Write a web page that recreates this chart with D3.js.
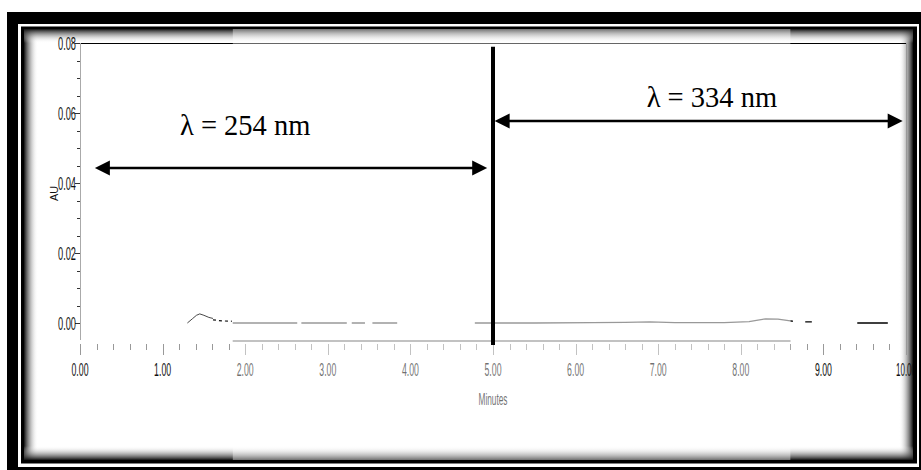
<!DOCTYPE html>
<html><head><meta charset="utf-8">
<script src="https://cdn.jsdelivr.net/npm/d3@7"></script>
<style>body{margin:0;background:#fff}svg{display:block}</style>
</head><body>
<svg id="c" width="921" height="470"></svg>
<script>
// ---- data ----
const xMajorTicks = [0,1,2,3,4,5,6,7,8,9,10];
const xTickLabels = ["0.00","1.00","2.00","3.00","4.00","5.00","6.00","7.00","8.00","9.00","10.00"];
const yMajorTicks = [0,0.02,0.04,0.06,0.08];
const yTickLabels = ["0.00","0.02","0.04","0.06","0.08"];
const xTitle = "Minutes";
const yTitle = "AU";
// chromatogram trace pieces (time in minutes, absorbance in AU); null = gap
const peakTime = [1.30,1.36,1.41,1.45,1.50,1.56,1.61];
const peakAU   = [0.0000,0.0012,0.0022,0.0026,0.0022,0.0016,0.0013];
const tailTime = [1.61,1.72,1.84];
const tailAU   = [0.0009,0.0006,0.0005];
const baseTime = [1.85,2.63,2.655,2.68,3.23,3.26,3.29,3.45,3.50,3.54,3.84,4.30,4.78,5.50,6.20,6.60,6.90,7.20,7.80,8.10,8.30,8.45,8.60];
const baseAU   = [0.0000,0.0000,null,0.0000,0.0000,null,0.0000,0.0000,null,0.0000,0.0000,null,0.0000,0.0000,0.0001,0.0002,0.0003,0.0001,0.0001,0.0004,0.0012,0.0011,0.0006];
const endTime  = [8.60,8.63,8.70,8.78,8.86,9.10,9.41,9.78];
const endAU    = [0.0006,0.0005,null,0.0003,0.0003,null,0.0000,0.0000];
// annotations
const splitTime = 5.0;
const splitRange = [-0.0063,0.0789];
const leftArrow  = {from:0.18, to:4.93, au:0.0443, label:"λ = 254 nm", lx:1.21, ly:0.0537};
const rightArrow = {from:5.02, to:9.96, au:0.0577, label:"λ = 334 nm", lx:6.86, ly:0.0617};

// ---- layout ----
const svg=d3.select("#c");
const x=d3.scaleLinear().domain([0,10]).range([80,906]);
const y=d3.scaleLinear().domain([0,0.08]).range([323,43]);
const axisY=344;

// inner frame shadows
const defs=svg.append("defs");
function grad(id,x1,y1,x2,y2){
  const g=defs.append("linearGradient").attr("id",id).attr("x1",x1).attr("y1",y1).attr("x2",x2).attr("y2",y2);
  g.append("stop").attr("offset","0").attr("stop-color","#111").attr("stop-opacity",1);
  g.append("stop").attr("offset","0.45").attr("stop-color","#777").attr("stop-opacity",0.55);
  g.append("stop").attr("offset","1").attr("stop-color","#fff").attr("stop-opacity",0);
}
grad("gL",0,0,1,0);grad("gR",1,0,0,0);grad("gT",0,0,0,1);grad("gB",0,1,0,0);
const fr={l:24,t:29,r:913,b:460,s:14};
svg.append("rect").attr("x",fr.l).attr("y",fr.t).attr("width",fr.s).attr("height",fr.b-fr.t).attr("fill","url(#gL)");
svg.append("rect").attr("x",fr.r-fr.s).attr("y",fr.t).attr("width",fr.s).attr("height",fr.b-fr.t).attr("fill","url(#gR)");
svg.append("rect").attr("x",fr.l).attr("y",fr.t).attr("width",fr.r-fr.l).attr("height",fr.s).attr("fill","url(#gT)");
svg.append("rect").attr("x",fr.l).attr("y",fr.b-fr.s).attr("width",fr.r-fr.l).attr("height",fr.s).attr("fill","url(#gB)");

const chart=svg.append("g");
const narrow="'Liberation Sans Narrow','Liberation Sans',Arial,sans-serif";

// top border & right border of plot
chart.append("line").attr("x1",x(0)).attr("x2",x(10)).attr("y1",y(0.08)+0.5).attr("y2",y(0.08)+0.5).attr("stroke","#000").attr("stroke-width",1);
chart.append("line").attr("x1",x(10)+0.5).attr("x2",x(10)+0.5).attr("y1",y(0.08)).attr("y2",axisY+6).attr("stroke","#999").attr("stroke-width",1);
// y axis line
chart.append("line").attr("x1",x(0)+0.5).attr("x2",x(0)+0.5).attr("y1",y(0.08)).attr("y2",axisY-4).attr("stroke","#aaa").attr("stroke-width",1);

// y ticks
const yMinor=d3.range(0,0.0801,0.005).filter(v=>!yMajorTicks.some(m=>Math.abs(m-v)<1e-6));
chart.selectAll(".ymin").data(yMinor).enter().append("line")
  .attr("x1",x(0)-3).attr("x2",x(0)).attr("y1",d=>Math.round(y(d))+0.5).attr("y2",d=>Math.round(y(d))+0.5).attr("stroke","#333");
chart.selectAll(".ymaj").data(yMajorTicks).enter().append("line")
  .attr("x1",x(0)-5).attr("x2",x(0)).attr("y1",d=>Math.round(y(d))+0.5).attr("y2",d=>Math.round(y(d))+0.5).attr("stroke","#333");
chart.selectAll(".ylab").data(yMajorTicks).enter().append("text")
  .attr("x",x(0)-4).attr("y",d=>y(d)+6.5).attr("text-anchor","end")
  .attr("font-family",narrow).attr("font-size",18).attr("fill","#111")
  .attr("textLength",18).attr("lengthAdjust","spacingAndGlyphs")
  .text((d,i)=>yTickLabels[i]);
// y title
chart.append("text").attr("transform",`translate(${x(0)-22},${y(0.037)}) rotate(-90)`)
  .attr("text-anchor","middle").attr("font-family",narrow).attr("font-size",11).attr("fill","#111")
  .attr("textLength",15).attr("lengthAdjust","spacingAndGlyphs").text(yTitle);

// x ticks
const xMinor=d3.range(0,10.001,0.2).filter(v=>Math.abs(v-Math.round(v))>1e-6);
chart.selectAll(".xmin").data(xMinor).enter().append("line")
  .attr("x1",d=>Math.round(x(d))+0.5).attr("x2",d=>Math.round(x(d))+0.5).attr("y1",axisY).attr("y2",axisY+6).attr("stroke","#999");
chart.selectAll(".xmaj").data(xMajorTicks).enter().append("line")
  .attr("x1",d=>Math.round(x(d))+0.5).attr("x2",d=>Math.round(x(d))+0.5).attr("y1",axisY).attr("y2",axisY+11).attr("stroke","#999");
chart.selectAll(".xlab").data(xMajorTicks).enter().append("text")
  .attr("x",d=>x(d)).attr("y",axisY+32).attr("text-anchor","middle")
  .attr("font-family",narrow).attr("font-size",18).attr("fill","#111")
  .attr("textLength",(d,i)=>xTickLabels[i].length>4?20:17).attr("lengthAdjust","spacingAndGlyphs")
  .text((d,i)=>xTickLabels[i]);
chart.append("text").attr("x",x(5)).attr("y",axisY+61).attr("text-anchor","middle")
  .attr("font-family",narrow).attr("font-size",16).attr("fill","#111")
  .attr("textLength",29).attr("lengthAdjust","spacingAndGlyphs").text(xTitle);

// trace
const line=d3.line().defined(d=>d[1]!==null).x(d=>x(d[0])).y(d=>y(d[1]));
const zip=(a,b)=>a.map((v,i)=>[v,b[i]]);
chart.append("path").attr("d",line(zip(peakTime,peakAU))).attr("fill","none").attr("stroke","#333").attr("stroke-width",0.9);
chart.append("path").attr("d",line(zip(tailTime,tailAU))).attr("fill","none").attr("stroke","#111").attr("stroke-width",1.2).attr("stroke-dasharray","3,3");
chart.append("path").attr("d",line(zip(baseTime,baseAU))).attr("fill","none").attr("stroke","#555").attr("stroke-width",1.3);
chart.append("path").attr("d",line(zip(endTime,endAU))).attr("fill","none").attr("stroke","#000").attr("stroke-width",1.3);

// patch band (light, faded) in middle
chart.append("line").attr("x1",x(1.85)).attr("x2",x(8.6)).attr("y1",axisY-3).attr("y2",axisY-3).attr("stroke","#999").attr("stroke-width",2);
svg.append("rect").attr("x",x(1.85)).attr("y",fr.t).attr("width",x(8.6)-x(1.85)).attr("height",fr.b-fr.t)
  .attr("fill","#fff").attr("opacity",0.4);

// frame bands
svg.append("path").attr("fill-rule","evenodd").attr("fill","#000")
  .attr("d","M7,12H940V490H7Z M18,24V467H919V24Z");
svg.append("path").attr("fill-rule","evenodd").attr("fill","#000")
  .attr("d","M21,26.5H917V463.5H21Z M24,29V460H913V29Z");

// annotations
const ann=svg.append("g");
ann.append("line").attr("x1",x(splitTime)).attr("x2",x(splitTime)).attr("y1",y(splitRange[1])).attr("y2",y(splitRange[0]))
  .attr("stroke","#000").attr("stroke-width",4);
function arrow(a){
  const yy=y(a.au), x0=x(a.from), x1=x(a.to), hl=15, hw=7.5;
  ann.append("line").attr("x1",x0+hl-2).attr("x2",x1-hl+2).attr("y1",yy).attr("y2",yy).attr("stroke","#000").attr("stroke-width",2.5);
  ann.append("path").attr("d",`M${x0},${yy}L${x0+hl},${yy-hw}L${x0+hl},${yy+hw}Z`).attr("fill","#000");
  ann.append("path").attr("d",`M${x1},${yy}L${x1-hl},${yy-hw}L${x1-hl},${yy+hw}Z`).attr("fill","#000");
  ann.append("text").attr("x",x(a.lx)).attr("y",y(a.ly)).attr("font-family","'Liberation Serif','Times New Roman',serif")
    .attr("font-size",28.5).attr("fill","#000").text(a.label);
}
arrow(leftArrow);arrow(rightArrow);
</script>
</body></html>
